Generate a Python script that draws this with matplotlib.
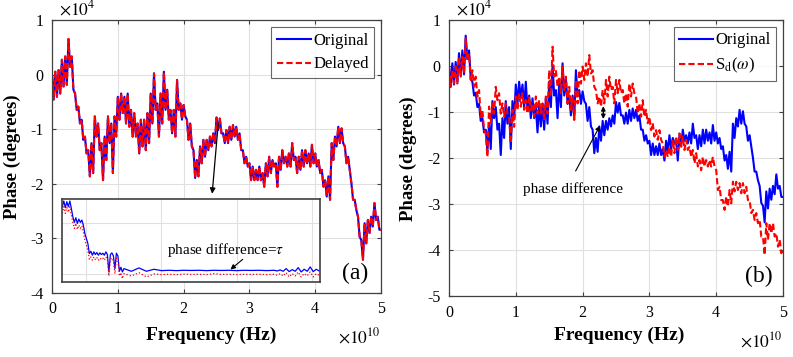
import numpy as np
import matplotlib
matplotlib.use('Agg')
import matplotlib.pyplot as plt

plt.rcParams['font.family'] = ['Liberation Serif', 'DejaVu Serif']
plt.rcParams['mathtext.fontset'] = 'stix'
plt.rcParams['axes.unicode_minus'] = False

# frequency grid (x 1e10 Hz) (x 1e4 degrees)
freq = np.round(np.arange(0, 5.0001, 0.05), 2)

# original phase: upper / lower edge of the noisy trace
orig_hi = [0.00, 0.06, 0.09, 0.28, 0.34, 0.66, 0.34, -0.34, -0.58, -0.82,
           -1.13, -1.38, -1.25, -0.76, -0.89, -1.25, -1.13, -0.76, -0.89, -0.76,
           -0.40, -0.34, -0.40, -0.34, -0.64, -0.70, -0.89, -0.82, -0.82, -0.70,
           -0.34, 0.03, -0.52, -0.34, 0.06, -0.27, -0.64, -0.64, -0.09, -0.52,
           -0.55, -0.82, -0.89, -1.38, -1.56, -1.31, -1.19, -1.19, -1.13, -1.07,
           -0.78, -0.80, -1.07, -1.01, -0.95, -0.92, -0.95, -1.07, -1.38, -1.50,
           -1.62, -1.68, -1.74, -1.68, -1.80, -1.62, -1.50, -1.56, -1.62, -1.50,
           -1.38, -1.50, -1.44, -1.25, -1.50, -1.50, -1.38, -1.38, -1.44, -1.28,
           -1.44, -1.56, -1.74, -1.93, -1.86, -1.25, -1.13, -0.95, -0.98, -1.31,
           -1.50, -1.99, -2.29, -2.60, -3.03, -2.72, -2.66, -2.60, -2.35, -2.60,
           -2.84]
orig_lo = [-0.45, -0.40, -0.34, -0.21, -0.18, 0.15, -0.27, -0.64, -0.89, -1.19,
           -1.44, -1.86, -1.80, -1.13, -1.38, -1.93, -1.56, -1.25, -1.80, -1.13,
           -0.82, -0.70, -0.89, -0.95, -1.13, -1.13, -1.44, -1.31, -1.38, -1.25,
           -0.89, -0.64, -1.13, -0.89, -0.64, -0.82, -1.07, -1.13, -0.64, -0.82,
           -0.76, -1.19, -1.31, -1.89, -1.86, -1.62, -1.50, -1.38, -1.31, -1.25,
           -1.01, -1.07, -1.25, -1.25, -1.19, -1.13, -1.19, -1.38, -1.62, -1.68,
           -1.93, -1.93, -1.93, -1.93, -2.05, -1.86, -1.80, -1.68, -2.05, -1.74,
           -1.62, -1.68, -1.68, -1.56, -1.80, -1.74, -1.68, -1.62, -1.68, -1.62,
           -1.68, -1.80, -2.05, -2.23, -2.29, -1.56, -1.31, -1.25, -1.25, -1.62,
           -1.74, -2.29, -2.48, -2.97, -3.39, -3.09, -2.90, -2.78, -2.66, -2.84,
           -3.03]

# delayed signal S_d(omega) of panel (b)
sd_hi = [-0.01, -0.09, -0.01, 0.20, 0.20, 0.60, 0.27, -0.09, -0.23, -0.52,
         -0.95, -1.46, -0.88, -0.81, -0.45, -0.59, -0.81, -0.81, -1.10, -0.95,
         -0.66, -0.59, -0.59, -0.74, -0.66, -0.81, -0.66, -0.74, -0.81, -0.66,
         -0.09, 0.42, -0.09, -0.23, -0.01, -0.23, -0.45, -0.66, -0.30, -0.09,
         -0.01, 0.06, 0.24, -0.09, -0.52, -0.66, -0.52, -0.30, -0.23, -0.45,
         -0.30, -0.30, -0.52, -0.59, -0.38, -0.38, -0.66, -0.81, -0.74, -0.95,
         -1.10, -1.24, -1.39, -1.39, -1.68, -1.82, -1.75, -1.60, -1.53, -1.46,
         -1.53, -1.60, -1.75, -1.82, -1.89, -2.04, -1.97, -2.04, -2.04, -1.97,
         -2.26, -2.62, -2.91, -2.83, -2.69, -2.51, -2.51, -2.54, -2.54, -2.62,
         -2.91, -3.12, -3.19, -3.34, -3.70, -3.41, -3.41, -3.41, -3.63, -3.77,
         -3.99]
sd_lo = [-0.45, -0.38, -0.38, -0.23, -0.16, 0.13, -0.30, -0.45, -0.66, -1.10,
         -1.39, -1.97, -1.24, -1.03, -0.74, -1.03, -1.10, -1.03, -1.68, -1.32,
         -0.95, -0.88, -0.95, -1.03, -0.95, -1.10, -1.03, -1.03, -1.17, -1.03,
         -0.66, -0.23, -0.45, -0.59, -0.52, -0.81, -0.95, -1.17, -0.81, -0.38,
         -0.30, -0.23, -0.16, -0.45, -0.81, -0.88, -0.81, -0.66, -0.52, -0.81,
         -0.59, -0.59, -0.81, -0.88, -0.66, -0.59, -1.03, -1.10, -1.10, -1.24,
         -1.39, -1.53, -1.60, -1.60, -1.97, -1.97, -1.97, -1.89, -1.82, -1.75,
         -1.82, -1.82, -1.97, -2.11, -2.18, -2.26, -2.18, -2.18, -2.18, -2.18,
         -2.69, -2.91, -3.12, -3.05, -2.98, -2.72, -2.69, -2.76, -2.76, -2.91,
         -3.19, -3.34, -3.41, -3.70, -4.10, -3.77, -3.63, -3.70, -3.92, -4.06,
         -4.17]

# zoomed inset (arbitrary units)
ins_x = [0.68, 0.70, 0.72, 0.74, 0.76, 0.78, 0.80, 0.82, 0.84, 0.86,
         0.88, 0.90, 0.92, 0.94, 0.96, 0.98, 1.00, 1.02, 1.04, 1.06,
         1.08, 1.10, 1.12, 1.14, 1.16, 1.18, 1.20, 1.22, 1.24, 1.26,
         1.28, 1.30, 1.32, 1.34, 1.36, 1.38, 1.40, 1.42, 1.44, 1.46,
         1.48, 1.50, 1.6, 1.7, 1.8, 1.9, 2.0, 2.1, 2.2, 2.3,
         2.4, 2.5, 2.6, 2.7, 2.8, 2.9, 3.0, 3.1, 3.2, 3.3,
         3.4, 3.5, 3.54, 3.58, 3.62, 3.66, 3.70, 3.74, 3.78, 3.82,
         3.86, 3.90, 3.94, 3.98, 4.02, 4.06, 4.10]
ins_orig = [4.5, 4.84, 4.44, 4.8, 4.5, 4.84, 4.4, 3.9, 3.56, 3.84,
            3.5, 3.76, 3.56, 3.7, 3.4, 2.9, 2.6, 2.3, 1.7, 1.84,
            1.6, 1.8, 1.64, 1.76, 1.6, 1.74, 1.64, 1.72, 1.6, 1.8,
            1.64, 0.6, 1.64, 1.74, 1.56, 0.8, 1.72, 1.56, 0.64, 0.88,
            0.6, 0.8, 0.64, 0.84, 0.64, 0.76, 0.68, 0.70, 0.68, 0.70,
            0.69, 0.70, 0.68, 0.70, 0.69, 0.70, 0.68, 0.70, 0.69, 0.70,
            0.68, 0.70, 0.66, 0.72, 0.64, 0.80, 0.62, 0.74, 0.64, 0.86,
            0.60, 0.76, 0.64, 0.90, 0.62, 0.76, 0.66]
ins_delay = [4.1, 4.5, 4.1, 4.46, 4.16, 4.5, 4.0, 3.56, 3.2, 3.5,
             3.14, 3.4, 3.2, 3.36, 3.0, 2.5, 2.2, 1.9, 1.36, 1.5,
             1.3, 1.5, 1.34, 1.46, 1.3, 1.44, 1.34, 1.42, 1.3, 1.5,
             1.34, 0.36, 1.34, 1.44, 1.26, 0.5, 1.42, 1.28, 0.36, 0.56,
             0.2, 0.5, 0.36, 0.56, 0.3, 0.48, 0.44, 0.46, 0.44, 0.47,
             0.45, 0.46, 0.44, 0.5, 0.45, 0.46, 0.44, 0.46, 0.45, 0.46,
             0.44, 0.46, 0.4, 0.5, 0.36, 0.56, 0.3, 0.5, 0.36, 0.6,
             0.3, 0.5, 0.36, 0.6, 0.3, 0.5, 0.4]


def trace(hi, lo):
    # alternate upper and lower edge to get the jagged band
    xs, ys = [], []
    for f, a, b in zip(freq, hi, lo):
        xs += [f, f + 0.025]
        ys += [a, b]
    return np.array(xs)[:-1], np.array(ys)[:-1]


def style(ax, ylo):
    ax.set_xlim(0, 5)
    ax.set_ylim(ylo, 1)
    ax.set_xticks(range(0, 6))
    ax.set_yticks(range(ylo, 2))
    ax.grid(True, color='#e0e0e0', lw=0.8)
    ax.set_axisbelow(True)
    ax.tick_params(direction='in', top=True, right=True, labelsize=11.5,
                   length=3, color='#404040', pad=6)
    for s in ax.spines.values():
        s.set_color('#404040')
        s.set_linewidth(0.9)
    ax.set_xlabel('Frequency (Hz)', fontsize=14, fontweight='bold')
    ax.set_ylabel('Phase (degrees)', fontsize=13.5, fontweight='bold')
    ax.text(0.02, 1.005, r'$\times10^{4}$', transform=ax.transAxes,
            fontsize=12.5, va='bottom')
    ax.text(0.87, -0.125, r'$\times10^{10}$', transform=ax.transAxes,
            fontsize=12.5, va='top')


def legend(ax):
    leg = ax.legend(loc='upper right', fontsize=12, handlelength=2.0,
                    handletextpad=0.15, fancybox=False, edgecolor='#404040',
                    borderaxespad=0.4, labelspacing=0.45, borderpad=0.35)
    leg.get_frame().set_linewidth(0.8)


fig = plt.figure(figsize=(7.93, 3.57), dpi=100)

# ---- panel (a)
ax1 = fig.add_axes([0.0656, 0.1793, 0.4149, 0.7633])
x, y = trace(orig_hi, orig_lo)
ax1.plot(x, y, color='b', lw=1.5, label='Original')
ax1.plot(x, y, color='r', lw=1.5, ls=(0, (3, 1.5)), label='Delayed')
style(ax1, -4)
ax1.xaxis.set_label_coords(0.485, -0.125)
ax1.yaxis.set_label_coords(-0.094, 0.5)
legend(ax1)
ax1.text(4.6, -3.65, '(a)', fontsize=17, ha='center', va='center')
ax1.annotate('', xy=(2.43, -2.23), xytext=(2.53, -0.83),
             arrowprops=dict(arrowstyle='-|>', color='k', lw=0.9,
                             mutation_scale=8))

# inset
axi = fig.add_axes([0.0782, 0.2101, 0.3253, 0.2325])
axi.plot(ins_x, ins_orig, color='b', lw=0.9)
axi.plot(ins_x, ins_delay, color='r', lw=0.9, ls=':')
axi.set_xlim(0.676, 4.11)
axi.set_ylim(0, 4.96)
axi.set_xticks([1, 2, 3, 4])
axi.set_yticks([0.5, 3.5])
axi.grid(True, color='#e0e0e0', lw=0.8)
axi.tick_params(length=0, labelbottom=False, labelleft=False)
for s in axi.spines.values():
    s.set_color('#404040')
    s.set_linewidth(1.2)
axi.text(2.86, 1.9, r'phase difference=$\tau$', fontsize=11,
         ha='center', va='center')
axi.annotate('', xy=(2.89, 0.64), xytext=(3.11, 1.46),
             arrowprops=dict(arrowstyle='-|>', color='k', lw=0.8,
                             mutation_scale=7))

# ---- panel (b)
ax2 = fig.add_axes([0.5662, 0.1695, 0.4212, 0.7745])
x, y = trace(orig_hi, orig_lo)
ax2.plot(x, y, color='b', lw=1.5, label='Original')
x, y = trace(sd_hi, sd_lo)
ax2.plot(x, y, color='r', lw=1.5, ls=(0, (3, 1.5)),
         label=r'S$_{\rm d}$($\omega$)')
style(ax2, -5)
ax2.xaxis.set_label_coords(0.509, -0.11)
ax2.yaxis.set_label_coords(-0.096, 0.5)
legend(ax2)
ax2.text(4.64, -4.56, '(b)', fontsize=17, ha='center', va='center')
ax2.annotate('', xy=(2.31, -1.21), xytext=(2.31, -0.81),
             arrowprops=dict(arrowstyle='<|-|>', color='k', lw=1.0,
                             mutation_scale=6))
ax2.annotate('', xy=(2.28, -1.24), xytext=(1.876, -2.33),
             arrowprops=dict(arrowstyle='-|>', color='k', lw=0.8,
                             mutation_scale=7))
ax2.text(1.86, -2.66, 'phase difference', fontsize=11, ha='center',
         va='center')

fig.savefig('out.png', dpi=100)
